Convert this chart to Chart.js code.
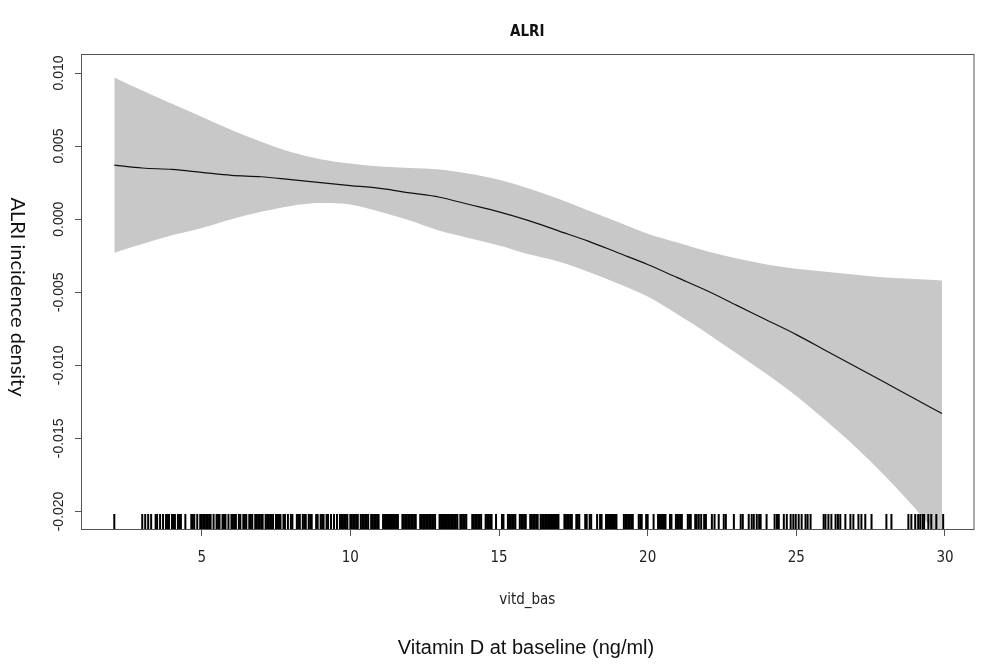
<!DOCTYPE html>
<html>
<head>
<meta charset="utf-8">
<title>ALRI</title>
<script src="https://cdn.jsdelivr.net/npm/chart.js@4.4.1/dist/chart.umd.min.js"></script>
<style>
  html, body { margin: 0; padding: 0; background: #fff; }
  #wrap { width: 983px; height: 670px; position: relative; }
</style>
</head>
<body>
<div id="wrap"><canvas id="alriChart"></canvas></div>
<script>
// ── data ───────────────────────────────────────────────────────────────────

const xGrid = [2.06, 3, 4, 5, 6, 7, 8, 9, 10, 11, 12, 13, 14, 15, 16, 17, 18, 19, 20,
  21, 22, 23, 24, 25, 26, 27, 28, 29, 29.9];

const fitValues = [0.0037, 0.0035, 0.0034, 0.0032, 0.0030, 0.0029, 0.0027, 0.0025, 0.0023,
  0.0021, 0.0018, 0.0015, 0.0010, 0.0005, -0.0001, -0.0008, -0.0015, -0.0023, -0.0031,
  -0.0040, -0.0049, -0.0059, -0.0069, -0.0079, -0.0090, -0.0101, -0.0112, -0.0123, -0.0133];

const upperValues = [0.0097, 0.0088, 0.0079, 0.0070, 0.0061, 0.0053, 0.0046, 0.0041, 0.0038,
  0.0036, 0.0035, 0.0034, 0.0031, 0.0027, 0.0021, 0.0014, 0.0006, -0.0002, -0.0010,
  -0.0016, -0.0022, -0.0027, -0.0031, -0.0034, -0.0036, -0.0038, -0.0040, -0.0041, -0.0042];

const lowerValues = [-0.0023, -0.0017, -0.0011, -0.0006, 0.0000, 0.0005, 0.0009, 0.0011, 0.0010,
  0.0005, -0.0001, -0.0008, -0.0013, -0.0018, -0.0024, -0.0029, -0.0036, -0.0044, -0.0053,
  -0.0065, -0.0078, -0.0092, -0.0106, -0.0121, -0.0138, -0.0156, -0.0176, -0.0198, -0.0220];

// observed vitd_bas values (rug)
const rugValues = [
  2.06, 3.0, 3.1, 3.2, 3.3, 3.45, 3.5, 3.6, 3.7, 3.8, 3.85, 3.9, 4.0, 4.05, 4.1, 4.2, 4.25,
  4.3, 4.45, 4.65, 4.7, 4.75, 4.85, 4.95, 5.0, 5.05, 5.1, 5.15, 5.2, 5.25, 5.3, 5.4, 5.5,
  5.55, 5.6, 5.7, 5.75, 5.8, 5.9, 6.0, 6.05, 6.1, 6.15, 6.25, 6.3, 6.4, 6.45, 6.5, 6.6,
  6.65, 6.7, 6.8, 6.85, 6.9, 6.95, 7.0, 7.05, 7.15, 7.2, 7.25, 7.3, 7.35, 7.4, 7.5, 7.55,
  7.6, 7.65, 7.75, 7.8, 7.9, 8.0, 8.05, 8.2, 8.25, 8.3, 8.4, 8.45, 8.5, 8.6, 8.65, 8.7,
  8.85, 8.9, 9.0, 9.05, 9.1, 9.2, 9.25, 9.35, 9.45, 9.55, 9.65, 9.7, 9.75, 9.8, 9.85, 9.9,
  10.0, 10.05, 10.1, 10.15, 10.2, 10.25, 10.35, 10.4, 10.45, 10.5, 10.55, 10.6, 10.7,
  10.75, 10.8, 10.85, 10.9, 10.95, 11.1, 11.15, 11.2, 11.25, 11.3, 11.35, 11.4, 11.45,
  11.5, 11.55, 11.6, 11.75, 11.8, 11.85, 11.9, 11.95, 12.0, 12.05, 12.1, 12.15, 12.2,
  12.35, 12.4, 12.45, 12.5, 12.55, 12.6, 12.65, 12.7, 12.75, 12.8, 12.85, 13.0, 13.05,
  13.1, 13.15, 13.2, 13.25, 13.3, 13.35, 13.4, 13.45, 13.5, 13.55, 13.6, 13.7, 13.75,
  13.8, 13.85, 13.9, 14.1, 14.15, 14.2, 14.25, 14.3, 14.35, 14.4, 14.55, 14.6, 14.65,
  14.7, 14.75, 14.9, 15.1, 15.15, 15.3, 15.35, 15.4, 15.45, 15.5, 15.55, 15.7, 15.75,
  15.8, 15.85, 15.9, 16.05, 16.1, 16.15, 16.2, 16.25, 16.3, 16.4, 16.45, 16.5, 16.55,
  16.6, 16.65, 16.7, 16.75, 16.8, 16.85, 16.9, 16.95, 17.0, 17.2, 17.25, 17.3, 17.35,
  17.4, 17.45, 17.6, 17.65, 17.7, 17.9, 17.95, 18.05, 18.1, 18.3, 18.4, 18.45, 18.6,
  18.65, 18.7, 18.75, 18.8, 18.85, 18.9, 18.95, 19.2, 19.25, 19.3, 19.35, 19.4, 19.45,
  19.5, 19.7, 19.75, 19.8, 19.95, 20.0, 20.2, 20.35, 20.4, 20.45, 20.5, 20.55, 20.6,
  20.75, 20.8, 20.95, 21.0, 21.05, 21.1, 21.15, 21.35, 21.4, 21.45, 21.6, 21.65, 21.72,
  21.8, 21.9, 21.96, 22.16, 22.25, 22.39, 22.56, 22.63, 22.9, 23.13, 23.2, 23.4, 23.5,
  23.57, 23.67, 23.75, 23.8, 24.0, 24.27, 24.35, 24.41, 24.58, 24.68, 24.81, 24.9, 24.98,
  25.08, 25.18, 25.31, 25.38, 25.48, 25.92, 25.98, 26.08, 26.18, 26.32, 26.4, 26.48,
  26.65, 26.82, 26.92, 27.09, 27.19, 27.32, 27.53, 28.03, 28.2, 28.77, 28.87, 29.0, 29.1,
  29.17, 29.25, 29.3, 29.44, 29.54, 29.71, 29.94
];

const xTicks = [5, 10, 15, 20, 25, 30];
const yTicks = [-0.02, -0.015, -0.01, -0.005, 0, 0.005, 0.01];
const xRange = [0.94, 30.96];
const yRange = [-0.0212, 0.0113];

const titleText = "ALRI";
const xVarName = "vitd_bas";
const xAxisLabel = "Vitamin D at baseline (ng/ml)";
const yAxisLabel = "ALRI incidence density";

// ── helpers ────────────────────────────────────────────────────────────────

const NARROW = '"Liberation Sans Narrow", "DejaVu Sans Condensed", "Liberation Sans", sans-serif';
const SANS = '"Liberation Sans", Arial, sans-serif';
const AXIS_GREY = "#555";

const toPoints = (ys) => xGrid.map((x, i) => ({ x, y: ys[i] }));

// rug sits on the bottom edge of the plot, pointing inwards
const rugY = yRange[0] + 0.016 * (yRange[1] - yRange[0]);

// R-style texts and box
const rFrame = {
  id: "rFrame",
  afterDraw(chart) {
    const { ctx, chartArea: a } = chart;
    const cx = (a.left + a.right) / 2;
    ctx.save();
    ctx.strokeStyle = AXIS_GREY;
    ctx.lineWidth = 1;
    ctx.strokeRect(a.left + 0.5, a.top + 0.5, a.right - a.left, a.bottom - a.top);

    ctx.fillStyle = "#111";
    ctx.textAlign = "center";
    ctx.textBaseline = "middle";
    ctx.font = "bold 15px " + NARROW;
    ctx.fillText(titleText, cx, 32);

    ctx.fillStyle = "#222";
    ctx.font = "15px " + NARROW;
    ctx.fillText(xVarName, cx, 600);

    ctx.fillStyle = "#111";
    ctx.font = "20px " + SANS;
    ctx.fillText(xAxisLabel, 526, 648);

    ctx.translate(17, 297);
    ctx.rotate(Math.PI / 2);
    ctx.font = '20px Lato, "Open Sans", sans-serif';
    ctx.fillText(yAxisLabel, 0, 0);
    ctx.restore();
  },
};

// ── chart ──────────────────────────────────────────────────────────────────

new Chart(document.getElementById("alriChart"), {
  type: "line",
  data: {
    datasets: [
      {
        label: "fit",
        data: toPoints(fitValues),
        borderColor: "#111",
        borderWidth: 1.2,
        pointRadius: 0,
        fill: false,
        cubicInterpolationMode: "monotone",
      },
      {
        type: "scatter",
        label: "rug",
        data: rugValues.map((x) => ({ x, y: rugY })),
        pointStyle: "line",
        rotation: 90,
        pointRadius: 7.5,
        borderColor: "#000",
        borderWidth: 2,
      },
      {
        label: "upper",
        data: toPoints(upperValues),
        borderWidth: 0,
        pointRadius: 0,
        fill: "+1",
        backgroundColor: "#c8c8c8",
        cubicInterpolationMode: "monotone",
      },
      {
        label: "lower",
        data: toPoints(lowerValues),
        borderWidth: 0,
        pointRadius: 0,
        fill: false,
        cubicInterpolationMode: "monotone",
      },
    ],
  },
  options: {
    responsive: true,
    maintainAspectRatio: false,
    devicePixelRatio: 1,
    animation: false,
    events: [],
    layout: { padding: { top: 54, right: 6, left: 0, bottom: 0 } },
    plugins: {
      legend: { display: false },
      title: { display: false },
      tooltip: { enabled: false },
    },
    scales: {
      x: {
        type: "linear",
        position: "bottom",
        min: xRange[0],
        max: xRange[1],
        afterBuildTicks: (s) => { s.ticks = xTicks.map((v) => ({ value: v })); },
        afterFit: (s) => { s.height = 141; },
        grid: { drawOnChartArea: false, drawTicks: true, tickLength: 7, color: AXIS_GREY },
        border: { display: true, color: AXIS_GREY },
        ticks: {
          autoSkip: false,
          maxRotation: 0,
          padding: 13,
          color: "#222",
          font: { family: NARROW, size: 15 },
          callback: (v) => String(v),
        },
      },
      y: {
        type: "linear",
        position: "left",
        min: yRange[0],
        max: yRange[1],
        afterBuildTicks: (s) => { s.ticks = yTicks.map((v) => ({ value: v })); },
        afterFit: (s) => { s.width = 81; },
        grid: { drawOnChartArea: false, drawTicks: true, tickLength: 6, color: AXIS_GREY },
        border: { display: true, color: AXIS_GREY },
        ticks: {
          autoSkip: false,
          minRotation: 90,
          maxRotation: 90,
          crossAlign: "center",
          padding: -4,
          color: "#222",
          font: { family: SANS, size: 14 },
          callback: (v) => (Math.abs(v) < 1e-9 ? "0.000" : Number(v).toFixed(3)),
        },
      },
    },
  },
  plugins: [rFrame],
});
</script>
</body>
</html>
